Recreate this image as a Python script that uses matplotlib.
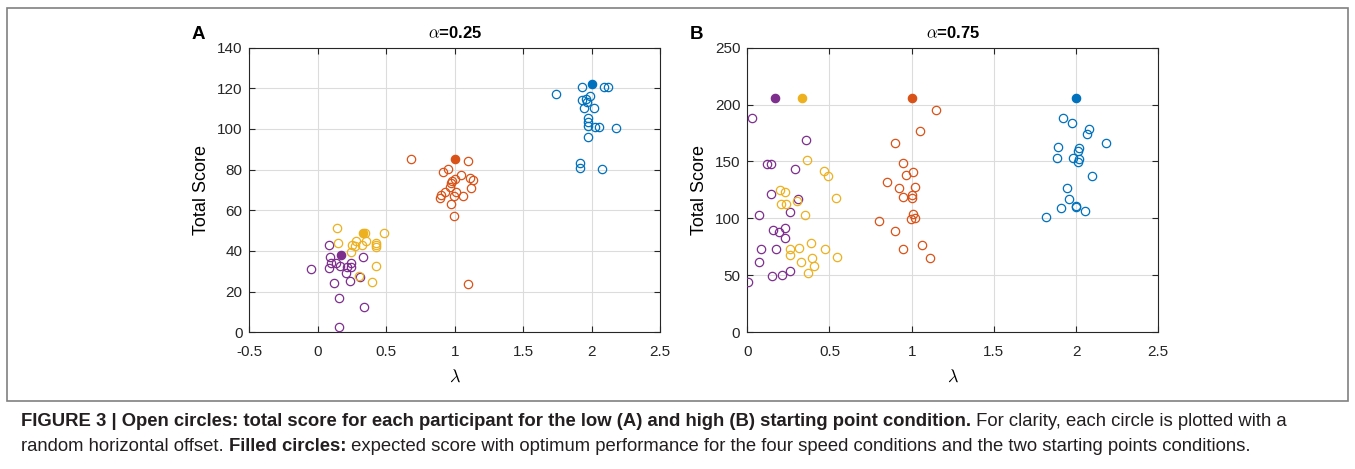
import numpy as np
import matplotlib
matplotlib.use("Agg")
import matplotlib.pyplot as plt
from matplotlib.patches import Rectangle

plt.rcParams['font.family'] = ['Liberation Sans', 'DejaVu Sans']
plt.rcParams['mathtext.fontset'] = 'cm'

# MATLAB default colours for the four speed conditions
colors = ['#7E2F8E', '#EDB120', '#D95319', '#0072BD']

# Panel A (alpha = 0.25): open circles, x = lambda + jitter, y = total score
a_purple_x = [0.080, 0.088, 0.331, -0.051, 0.080, 0.098, 0.136, 0.160, 0.214, 0.244,
              0.239, 0.209, 0.306, 0.236, 0.115, 0.156, 0.338, 0.151]
a_purple_y = [42.9, 37.2, 37.2, 31.0, 31.8, 34.2, 33.9, 32.8, 32.3, 32.3,
              34.2, 29.0, 27.1, 25.1, 24.3, 17.0, 12.6, 2.8]
a_yellow_x = [0.139, 0.486, 0.144, 0.280, 0.348, 0.353, 0.251, 0.275, 0.319, 0.428,
              0.428, 0.428, 0.244, 0.423, 0.299, 0.392]
a_yellow_y = [51.2, 49.0, 44.1, 45.1, 48.7, 45.1, 42.9, 42.4, 42.9, 44.1,
              42.9, 41.8, 39.6, 32.8, 27.8, 24.9]
a_orange_x = [0.683, 1.094, 0.915, 0.948, 1.048, 1.114, 1.131, 0.999, 0.980, 0.973,
              0.968, 1.121, 0.926, 1.007, 0.900, 0.893, 0.997, 1.061, 0.973, 0.992, 1.094]
a_orange_y = [85.1, 84.3, 79.0, 80.3, 77.4, 76.0, 74.9, 75.3, 74.4, 73.3,
              71.6, 71.1, 69.2, 69.2, 67.5, 65.9, 67.0, 67.2, 63.0, 57.2, 23.9]
a_blue_x = [1.928, 2.091, 2.118, 1.736, 1.989, 1.928, 1.958, 1.965, 1.945, 2.013,
            1.972, 1.974, 1.974, 2.026, 2.050, 2.177, 1.969, 1.916, 1.916, 2.071]
a_blue_y = [120.5, 120.5, 120.5, 117.4, 116.2, 114.3, 114.6, 113.1, 110.5, 110.5,
            105.3, 103.6, 101.5, 101.1, 101.1, 100.3, 95.9, 83.1, 80.8, 80.3]

# Panel B (alpha = 0.75)
b_purple_x = [0.03, 0.36, 0.12, 0.145, 0.29, 0.145, 0.31, 0.26, 0.07, 0.23,
              0.155, 0.19, 0.23, 0.085, 0.175, 0.07, 0.26, 0.21, 0.15, 0.005]
b_purple_y = [188, 169, 148, 147.5, 143, 121, 117, 106, 103, 92,
              90, 88, 83, 73, 73, 62, 54, 50, 49, 44.5]
b_yellow_x = [0.365, 0.465, 0.49, 0.2, 0.23, 0.205, 0.235, 0.3, 0.54, 0.35,
              0.385, 0.315, 0.26, 0.26, 0.47, 0.545, 0.395, 0.325, 0.405, 0.37]
b_yellow_y = [151, 142, 137, 125, 123.5, 113, 113, 115, 118, 103,
              78, 74, 73, 68, 73, 66, 65, 62, 58, 52.5]
b_orange_x = [1.145, 1.05, 0.90, 0.945, 1.01, 0.967, 0.85, 0.92, 1.02, 0.947,
              1.0, 1.0, 1.01, 0.997, 1.02, 0.80, 0.90, 1.065, 0.947, 1.11]
b_orange_y = [195.4, 177.2, 165.8, 148.5, 140.8, 138.2, 132.3, 126.8, 127.4, 119.1,
              120.6, 117.7, 103.6, 99.2, 100.1, 97.7, 89.2, 76.6, 72.8, 64.9]
b_blue_x = [1.92, 1.975, 2.077, 2.065, 2.18, 1.888, 2.018, 2.012, 1.884, 1.982,
            2.015, 2.009, 2.097, 1.944, 1.958, 1.908, 2.002, 2.002, 2.055, 1.82]
b_blue_y = [188.1, 183.7, 178.4, 174.3, 166.6, 162.6, 161.7, 159.3, 153.2, 153.2,
            152.3, 149.9, 137.6, 126.8, 117.3, 109.4, 111.2, 110.3, 106.5, 101]

# Filled circles: expected score with optimum performance
opt_lambda = [1 / 6, 1 / 3, 1, 2]
opt_a = [38, 49, 85, 122]
opt_b = [206, 206, 206, 206]

panels = [
    dict(xs=[a_purple_x, a_yellow_x, a_orange_x, a_blue_x],
         ys=[a_purple_y, a_yellow_y, a_orange_y, a_blue_y],
         opt=opt_a, title=r'$\alpha$=0.25', letter='A',
         xlim=(-0.5, 2.5), xticks=[-0.5, 0, 0.5, 1, 1.5, 2, 2.5],
         ylim=(0, 140), yticks=np.arange(0, 141, 20), left=0.184),
    dict(xs=[b_purple_x, b_yellow_x, b_orange_x, b_blue_x],
         ys=[b_purple_y, b_yellow_y, b_orange_y, b_blue_y],
         opt=opt_b, title=r'$\alpha$=0.75', letter='B',
         xlim=(0, 2.5), xticks=[0, 0.5, 1, 1.5, 2, 2.5],
         ylim=(0, 250), yticks=np.arange(0, 251, 50), left=0.5515),
]

fig = plt.figure(figsize=(13.55, 4.69), dpi=100)
axcol = '#262626'

for p in panels:
    ax = fig.add_axes([p['left'], 0.2915, 0.3033, 0.607])
    for c, x, y in zip(colors, p['xs'], p['ys']):
        ax.plot(x, y, 'o', mfc='none', mec=c, ms=6, mew=0.9, zorder=3)
    for c, x, y in zip(colors, opt_lambda, p['opt']):
        ax.plot(x, y, 'o', mfc=c, mec=c, ms=6, mew=0.9, zorder=4)
    ax.set_xlim(p['xlim'])
    ax.set_ylim(p['ylim'])
    ax.set_xticks(p['xticks'])
    ax.set_xticklabels([f'{t:g}' for t in p['xticks']])
    ax.set_yticks(p['yticks'])
    ax.grid(True, color='#dcdcdc', linewidth=0.8)
    ax.set_axisbelow(True)
    ax.tick_params(direction='in', length=4, width=0.8, colors=axcol,
                   labelsize=11, top=True, right=True)
    ax.tick_params(axis='x', pad=9)
    ax.tick_params(axis='y', pad=5)
    for s in ax.spines.values():
        s.set_color(axcol)
        s.set_linewidth(0.8)
    ax.set_xlabel(r'$\lambda$', fontsize=13, labelpad=7)
    ax.set_ylabel('Total Score', fontsize=13, labelpad=5)
    ax.set_title(p['title'], fontsize=12, fontweight='bold', pad=7)
    ax.text(-0.14, 1.015, p['letter'], transform=ax.transAxes,
            fontsize=13.5, fontweight='bold', ha='left', va='bottom')

# border around the figure part
fig.add_artist(Rectangle((7 / 1355, 1 - 401 / 469), 1341 / 1355, 393 / 469,
                         transform=fig.transFigure, fill=False,
                         edgecolor='#808080', linewidth=1.2))

# caption with mixed bold and regular pieces
cap_font = ['Liberation Sans', 'DejaVu Sans']
renderer = fig.canvas.get_renderer()

def caption_line(pieces, y):
    x = 21 / 1355
    for txt, weight in pieces:
        t = fig.text(x, y, txt, fontsize=13.3, fontweight=weight,
                     family=cap_font, color='#231f20', va='center', ha='left')
        bb = t.get_window_extent(renderer=renderer)
        x += bb.width / fig.bbox.width

caption_line([('FIGURE 3 | Open circles: total score for each participant for the low (A) '
               'and high (B) starting point condition.', 'bold'),
              (' For clarity, each circle is plotted with a', 'normal')],
             1 - 421 / 469)
caption_line([('random horizontal offset. ', 'normal'),
              ('Filled circles:', 'bold'),
              (' expected score with optimum performance for the four speed conditions '
               'and the two starting points conditions.', 'normal')],
             1 - 446 / 469)

fig.savefig('out.png', dpi=100)
